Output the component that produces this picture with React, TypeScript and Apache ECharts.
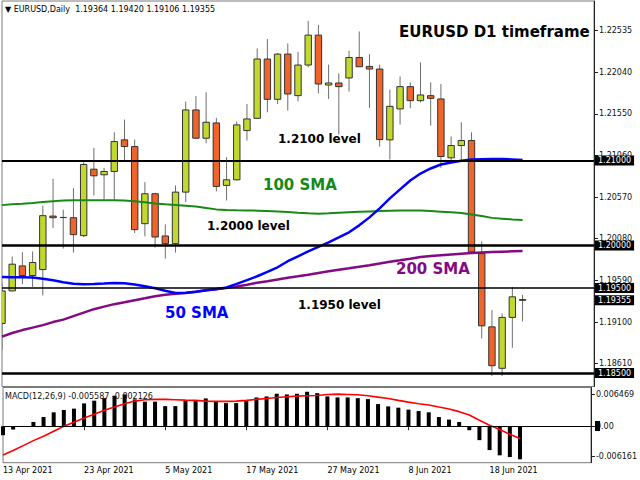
import React, { useEffect, useRef } from 'react';
import * as echarts from 'echarts';

const dates = [
  '13 Apr 2021', '14 Apr 2021', '15 Apr 2021', '16 Apr 2021', '19 Apr 2021', '20 Apr 2021', '21 Apr 2021',
  '22 Apr 2021', '23 Apr 2021', '26 Apr 2021', '27 Apr 2021', '28 Apr 2021', '29 Apr 2021', '30 Apr 2021',
  '3 May 2021', '4 May 2021', '5 May 2021', '6 May 2021', '7 May 2021', '10 May 2021', '11 May 2021',
  '12 May 2021', '13 May 2021', '14 May 2021', '17 May 2021', '18 May 2021', '19 May 2021', '20 May 2021',
  '21 May 2021', '24 May 2021', '25 May 2021', '26 May 2021', '27 May 2021', '28 May 2021', '31 May 2021',
  '1 Jun 2021', '2 Jun 2021', '3 Jun 2021', '4 Jun 2021', '7 Jun 2021', '8 Jun 2021', '9 Jun 2021',
  '10 Jun 2021', '11 Jun 2021', '14 Jun 2021', '15 Jun 2021', '16 Jun 2021', '17 Jun 2021', '18 Jun 2021',
  '21 Jun 2021', '22 Jun 2021', '23 Jun 2021',
];
const emptySlots = 7;
const labelEvery = 8;

const opens = [
  1.19083, 1.19466, 1.1976, 1.19647, 1.19717, 1.20346, 1.2033, 1.20327, 1.20116, 1.20898,
  1.20832, 1.20871, 1.21243, 1.21164, 1.20257, 1.20609, 1.20112, 1.20022, 1.20628, 1.21595,
  1.21262, 1.21442, 1.20707, 1.20773, 1.21352, 1.21496, 1.22194, 1.2172, 1.22252, 1.21763,
  1.22123, 1.22475, 1.21888, 1.21912, 1.21971, 1.22212, 1.22107, 1.22076, 1.21243, 1.21607,
  1.21869, 1.21704, 1.21763, 1.21724, 1.21032, 1.21176, 1.21235, 1.19905, 1.19043, 1.18555,
  1.19154, 1.19364,
];
const closes = [
  1.19466, 1.1978, 1.19647, 1.198, 1.20351, 1.20327, 1.20329, 1.20128, 1.20953, 1.2082,
  1.20871, 1.21223, 1.21164, 1.20187, 1.20609, 1.201, 1.20022, 1.20628, 1.21595, 1.21262,
  1.2145, 1.20695, 1.20773, 1.21419, 1.21489, 1.22194, 1.2172, 1.22252, 1.21783, 1.22123,
  1.22475, 1.219, 1.21912, 1.21869, 1.22212, 1.22103, 1.22076, 1.21246, 1.21637, 1.21869,
  1.21704, 1.21771, 1.21731, 1.21047, 1.21176, 1.21235, 1.19924, 1.19055, 1.18586, 1.19154,
  1.19396, 1.19355,
];
const lows = [
  1.1877, 1.1946, 1.19545, 1.19513, 1.19412, 1.20205, 1.19964, 1.19917, 1.201, 1.2059,
  1.20539, 1.2053, 1.21, 1.20147, 1.20108, 1.19975, 1.19846, 1.19917, 1.2051, 1.21255,
  1.21203, 1.20636, 1.2053, 1.20765, 1.21235, 1.2149, 1.21567, 1.21665, 1.21587, 1.21696,
  1.22095, 1.2179, 1.21724, 1.21305, 1.2181, 1.22099, 1.21619, 1.21164, 1.21012, 1.21423,
  1.21614, 1.21684, 1.21411, 1.20914, 1.2098, 1.21, 1.19905, 1.18907, 1.18465, 1.18465,
  1.18797, 1.19106,
];
const highs = [
  1.19556, 1.1987, 1.1992, 1.1993, 1.20468, 1.20785, 1.20421, 1.20675, 1.2098, 1.21149,
  1.20914, 1.21332, 1.21481, 1.21246, 1.20745, 1.20621, 1.20249, 1.20707, 1.21692, 1.21759,
  1.21802, 1.21501, 1.21039, 1.21458, 1.21665, 1.22318, 1.22428, 1.22264, 1.22377, 1.22279,
  1.22643, 1.22596, 1.22127, 1.22025, 1.22291, 1.22518, 1.22252, 1.22127, 1.21833, 1.21989,
  1.21919, 1.22154, 1.21919, 1.219, 1.21282, 1.2145, 1.21332, 1.20049, 1.19239, 1.19201,
  1.19513, 1.1942,
];

const sma50 = [
  1.1963, 1.19627, 1.19627, 1.19623, 1.19609, 1.19592, 1.19568, 1.1955, 1.19545, 1.19548,
  1.19553, 1.1956, 1.19556, 1.19541, 1.19521, 1.19498, 1.19468, 1.19442, 1.19445, 1.19457,
  1.19474, 1.19486, 1.19506, 1.19548, 1.19592, 1.19638, 1.19689, 1.19744, 1.19815, 1.19873,
  1.19932, 1.19985, 1.20038, 1.20096, 1.20155, 1.20237, 1.20331, 1.20437, 1.20554, 1.2066,
  1.20765, 1.20847, 1.20906, 1.20953, 1.20977, 1.20996, 1.21012, 1.21015, 1.21018, 1.21018,
  1.21012, 1.21005,
];
const sma100 = [
  1.20475, 1.20484, 1.20492, 1.20501, 1.20513, 1.20522, 1.20528, 1.20531, 1.20531, 1.20531,
  1.20531, 1.20531, 1.20528, 1.20522, 1.20509, 1.20495, 1.20484, 1.20477, 1.20469, 1.20458,
  1.20442, 1.20425, 1.20419, 1.20415, 1.20413, 1.2041, 1.20406, 1.20401, 1.20393, 1.20384,
  1.20378, 1.20374, 1.20378, 1.20384, 1.2039, 1.20396, 1.20401, 1.20405, 1.2041, 1.20413,
  1.20413, 1.20411, 1.20405, 1.20398, 1.2039, 1.20381, 1.20366, 1.20346, 1.20325, 1.20316,
  1.20307, 1.20299,
];
const sma200 = [
  1.18928, 1.1897, 1.19005, 1.19034, 1.19063, 1.19099, 1.19128, 1.19169, 1.1921, 1.19251,
  1.19281, 1.1931, 1.19333, 1.19357, 1.1938, 1.19404, 1.19421, 1.19433, 1.19442, 1.19457,
  1.19474, 1.19489, 1.19501, 1.19518, 1.19539, 1.19562, 1.1958, 1.196, 1.19621, 1.19638,
  1.19656, 1.19677, 1.19697, 1.19715, 1.19732, 1.1975, 1.19768, 1.19788, 1.19809, 1.19826,
  1.19844, 1.19865, 1.19876, 1.19885, 1.19894, 1.19903, 1.19912, 1.19918, 1.19923, 1.19927,
  1.19931, 1.19934,
];

const macdHist = [
  -0.00182, -0.00067, 0.00006, 0.00087, 0.00188, 0.00283, 0.0033, 0.00358, 0.00465, 0.0052,
  0.00572, 0.00621, 0.00647, 0.00546, 0.005, 0.005, 0.0041, 0.0041, 0.0052, 0.0052,
  0.00566, 0.005, 0.00471, 0.00471, 0.0052, 0.00586, 0.00607, 0.00661, 0.00647, 0.00661,
  0.00702, 0.00673, 0.00607, 0.00586, 0.00586, 0.00572, 0.00552, 0.00451, 0.00404, 0.00378,
  0.00338, 0.00309, 0.00283, 0.00188, 0.00135, 0.00087, -0.00081, -0.00283, -0.00485, -0.00592,
  -0.00627, -0.00673,
];
const macdSignal = [
  -0.00586, -0.00495, -0.00394, -0.00293, -0.00202, -0.00101, 0.0, 0.00081, 0.00168, 0.00243,
  0.00324, 0.0039, 0.00459, 0.00512, 0.0054, 0.00546, 0.00546, 0.0054, 0.00532, 0.00526,
  0.00512, 0.00506, 0.00506, 0.00512, 0.00526, 0.00546, 0.00566, 0.00586, 0.006, 0.00613,
  0.00621, 0.00627, 0.00647, 0.00653, 0.00647, 0.00641, 0.00621, 0.00592, 0.00566, 0.00526,
  0.00491, 0.00459, 0.00431, 0.0039, 0.0035, 0.00297, 0.00228, 0.00121, 0.0002, -0.00067,
  -0.00162, -0.00249,
];

const priceTicks = [1.22535, 1.2204, 1.2155, 1.2106, 1.2057, 1.2008, 1.1959, 1.191, 1.1861];
const levelLines = [1.21, 1.2, 1.195, 1.185];
const lastPrice = 1.19355;
const macdTicks = [0.006469, 0, -0.006161];

const headerText = '\u25BC EURUSD,Daily  1.19364 1.19420 1.19106 1.19355';
const macdText = 'MACD(12,26,9) -0.005587 -0.002126';
const titleText = 'EURUSD D1 timeframe';
const annotations = [
  { text: '1.2100 level', kind: 'level', x: 278, y: 139 },
  { text: '1.2000 level', kind: 'level', x: 207, y: 226 },
  { text: '1.1950 level', kind: 'level', x: 298, y: 305 },
  { text: '100 SMA', kind: 'sma100', x: 263, y: 185 },
  { text: '50 SMA', kind: 'sma50', x: 165, y: 313 },
  { text: '200 SMA', kind: 'sma200', x: 396, y: 269 },
];

const FONT = '"DejaVu Sans", Verdana, sans-serif';
const BULL = '#C2D82F';
const BEAR = '#F0642A';
const C50 = '#0000FF';
const C100 = '#168A16';
const C200 = '#840A84';

const categories = [...dates, ...Array.from({ length: emptySlots }, () => '')];

export default function App() {
  const ref = useRef<HTMLDivElement>(null);
  useEffect(() => {
    const chart = echarts.init(ref.current!, null, { renderer: 'svg' });
    const levelWidths = [2, 2.5, 1.5, 2.5];
    const annColor: Record<string, string> = { level: '#000', sma100: C100, sma50: C50, sma200: C200 };
    const annSize: Record<string, number> = { level: 12, sma100: 15, sma50: 15, sma200: 15 };
    const showIdx = (idx: number) => idx % labelEvery === 0 && idx < dates.length;

    const option: any = {
      animation: false,
      backgroundColor: '#fff',
      grid: [
        { left: 2, right: 46, top: 1, height: 385.5, show: true, borderColor: '#7a7a7a', borderWidth: 1 },
        { left: 2, right: 46, top: 387.5, height: 75.2, show: true, borderColor: '#7a7a7a', borderWidth: 1 },
      ],
      xAxis: [
        { type: 'category', gridIndex: 0, data: categories, boundaryGap: false, show: false },
        {
          type: 'category', gridIndex: 1, data: categories, boundaryGap: false,
          axisLine: { show: false },
          axisTick: { show: true, interval: (i: number) => showIdx(i), length: 4, lineStyle: { color: '#333' } },
          axisLabel: {
            interval: (i: number) => showIdx(i), align: 'left', margin: 4,
            fontSize: 8, fontFamily: FONT, color: '#000',
          },
          splitLine: { show: false },
        },
      ],
      yAxis: [
        {
          type: 'value', gridIndex: 0, position: 'right', min: 1.183412, max: 1.228765, scale: true,
          axisLine: { show: true, lineStyle: { color: '#222' } },
          axisTick: { show: true, length: 4, customValues: priceTicks, lineStyle: { color: '#222' } },
          axisLabel: {
            customValues: priceTicks, formatter: (v: number) => v.toFixed(5),
            fontSize: 8, fontFamily: FONT, color: '#111', margin: 5,
          },
          splitLine: { show: false },
        },
        {
          type: 'value', gridIndex: 1, position: 'right', min: -0.007419, max: 0.007884,
          axisLine: { show: true, lineStyle: { color: '#222' } },
          axisTick: { show: true, length: 4, customValues: macdTicks, lineStyle: { color: '#222' } },
          axisLabel: {
            customValues: macdTicks, formatter: (v: number) => (v === 0 ? '0.00' : v.toFixed(6)),
            fontSize: 8, fontFamily: FONT, color: '#111', margin: 5,
          },
          splitLine: { show: false },
        },
      ],
      series: [
        {
          type: 'custom', name: 'EURUSD', xAxisIndex: 0, yAxisIndex: 0, clip: true,
          data: opens.map((o, i) => [i, o, closes[i], lows[i], highs[i]]),
          encode: { x: 0, y: [1, 2, 3, 4] },
          renderItem: (params: any, api: any) => {
            const i = api.value(0);
            const o = api.value(1);
            const c = api.value(2);
            const pO = api.coord([i, o]);
            const pC = api.coord([i, c]);
            const pL = api.coord([i, api.value(3)]);
            const pH = api.coord([i, api.value(4)]);
            const w = 6.4;
            const top = Math.min(pO[1], pC[1]);
            const h = Math.abs(pO[1] - pC[1]);
            return {
              type: 'group',
              children: [
                { type: 'line', shape: { x1: pH[0], y1: pH[1], x2: pL[0], y2: pL[1] }, style: { stroke: '#6e6e6e', lineWidth: 1 } },
                {
                  type: 'rect', shape: { x: pO[0] - w / 2, y: top, width: w, height: h },
                  style: { fill: c > o ? BULL : BEAR, stroke: '#333', lineWidth: 1 },
                },
              ],
            };
          },
        },
        {
          type: 'line', name: '100 SMA', xAxisIndex: 0, yAxisIndex: 0, data: sma100, showSymbol: false,
          lineStyle: { color: C100, width: 2 }, itemStyle: { color: C100 }, z: 3,
        },
        {
          type: 'line', name: '200 SMA', xAxisIndex: 0, yAxisIndex: 0, data: sma200, showSymbol: false,
          lineStyle: { color: C200, width: 2.5 }, itemStyle: { color: C200 }, z: 3,
        },
        {
          type: 'line', name: '50 SMA', xAxisIndex: 0, yAxisIndex: 0, data: sma50, showSymbol: false,
          lineStyle: { color: C50, width: 2.5 }, itemStyle: { color: C50 }, z: 3,
          markLine: {
            silent: true, symbol: ['none', 'none'], animation: false, precision: 5,
            label: {
              show: true, position: 'end', distance: 1,
              formatter: (p: any) => Number(p.value).toFixed(5),
              backgroundColor: '#000', color: '#fff', fontSize: 8, fontFamily: FONT, padding: [1, 3, 1, 3],
            },
            data: [
              ...levelLines.map((v, k) => ({ yAxis: v, lineStyle: { color: '#000', width: levelWidths[k], type: 'solid' } })),
              { yAxis: lastPrice, lineStyle: { color: 'rgba(0,0,0,0)', width: 1, type: 'solid' } },
            ],
          },
        },
        {
          type: 'bar', name: 'MACD', xAxisIndex: 1, yAxisIndex: 1, data: macdHist, barWidth: 4,
          itemStyle: { color: '#000' },
          markLine: {
            silent: true, symbol: ['none', 'none'], animation: false, label: { show: false }, precision: 6,
            data: [{ yAxis: 0, lineStyle: { color: '#000', width: 1, type: 'solid' } }],
          },
        },
        {
          type: 'line', name: 'Signal', xAxisIndex: 1, yAxisIndex: 1, data: macdSignal, showSymbol: false,
          lineStyle: { color: '#F00', width: 1.6 }, itemStyle: { color: '#F00' }, z: 4,
        },
      ],
      graphic: [
        { type: 'rect', x: 595, y: 421, shape: { width: 5, height: 10 }, style: { fill: '#000' }, z: 1 },
        {
          type: 'text', x: 5, y: 9, z: 10,
          style: { text: headerText, fontSize: 8, fontFamily: FONT, fill: '#000', align: 'left', verticalAlign: 'middle' },
        },
        {
          type: 'text', x: 5, y: 396, z: 10,
          style: { text: macdText, fontSize: 8, fontFamily: FONT, fill: '#111', align: 'left', verticalAlign: 'middle' },
        },
        {
          type: 'text', x: 399, y: 32, z: 10,
          style: { text: titleText, fontSize: 15, fontWeight: 'bold', fontFamily: FONT, fill: '#000', align: 'left', verticalAlign: 'middle' },
        },
        ...annotations.map((a) => ({
          type: 'text', x: a.x, y: a.y, z: 10,
          style: {
            text: a.text, fontSize: annSize[a.kind], fontWeight: 'bold', fontFamily: FONT,
            fill: annColor[a.kind], align: 'left', verticalAlign: 'middle',
          },
        })),
      ],
    };
    chart.setOption(option);
    return () => chart.dispose();
  }, []);
  return <div ref={ref} style={{ position: 'fixed', left: 0, top: 0, width: 640, height: 480 }} />;
}
